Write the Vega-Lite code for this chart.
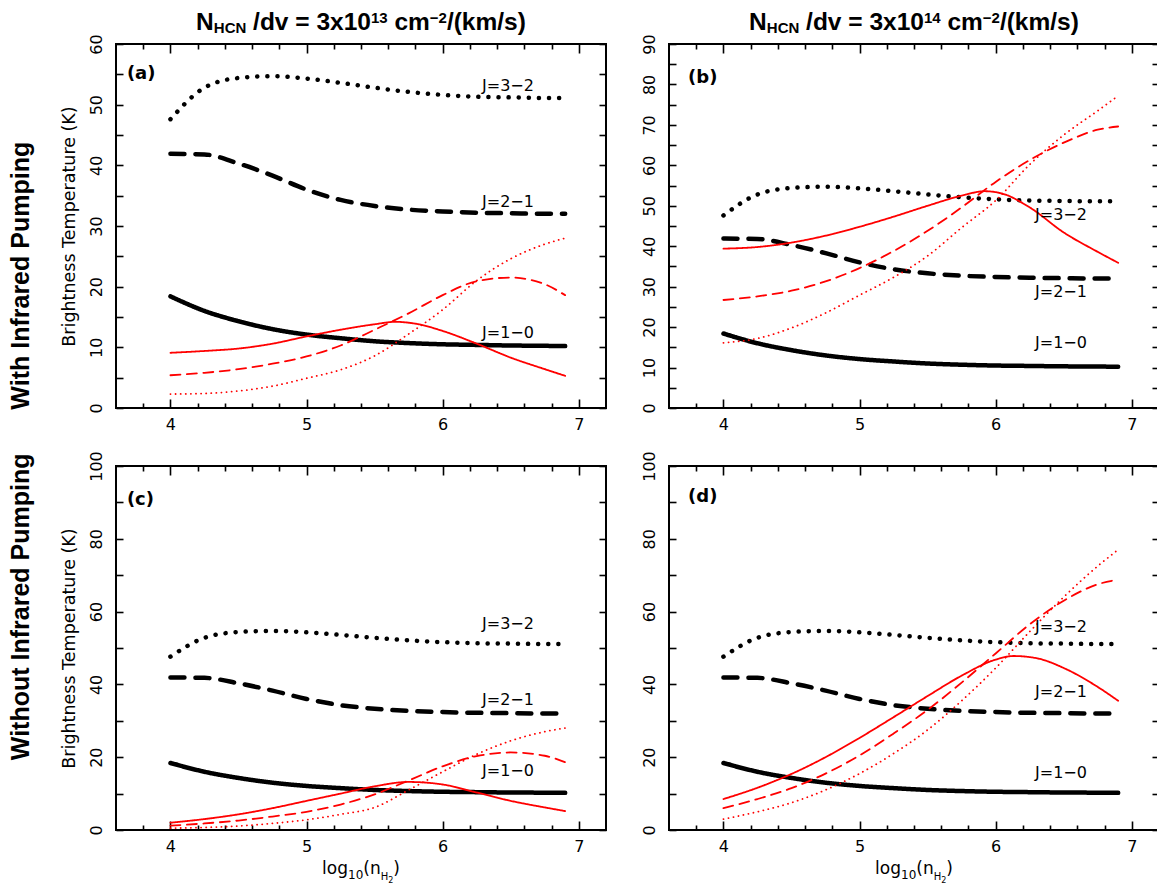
{
  "$schema": "https://vega.github.io/schema/vega-lite/v6.json",
  "background": "white",
  "padding": {"left": 8, "top": 8, "right": 0, "bottom": 0},
  "bounds": "flush",
  "columns": 2,
  "spacing": {"row": 58, "column": 63},
  "config": {
    "view": {"stroke": "#000000", "strokeWidth": 2},
    "axis": {
      "domain": false, "grid": false,
      "labelFont": "DejaVu Sans", "labelFontSize": 16, "labelColor": "#000000",
      "labelOverlap": false, "labelFlush": false, "labelBound": false,
      "tickColor": "#000000", "tickWidth": 1.6,
      "titleFont": "DejaVu Sans", "titleFontSize": 16, "titleFontWeight": "normal", "titleColor": "#000000"
    },
    "text": {"color": "#000000"}
  },
  "datasets": {
    "base": [
      {"J": "1-0", "x": 4, "T": 18.4}, {"J": "1-0", "x": 4.25, "T": 16.0}, {"J": "1-0", "x": 4.5, "T": 14.3}, {"J": "1-0", "x": 4.75, "T": 13.0}, {"J": "1-0", "x": 5, "T": 12.1}, {"J": "1-0", "x": 5.25, "T": 11.5}, {"J": "1-0", "x": 5.5, "T": 11.0}, {"J": "1-0", "x": 5.75, "T": 10.7}, {"J": "1-0", "x": 6, "T": 10.5}, {"J": "1-0", "x": 6.25, "T": 10.4}, {"J": "1-0", "x": 6.5, "T": 10.3}, {"J": "1-0", "x": 6.75, "T": 10.25}, {"J": "1-0", "x": 6.9, "T": 10.2},
      {"J": "2-1", "x": 4, "T": 41.9}, {"J": "2-1", "x": 4.25, "T": 41.8}, {"J": "2-1", "x": 4.5, "T": 40.3}, {"J": "2-1", "x": 4.75, "T": 38.3}, {"J": "2-1", "x": 5, "T": 36.0}, {"J": "2-1", "x": 5.25, "T": 34.3}, {"J": "2-1", "x": 5.5, "T": 33.3}, {"J": "2-1", "x": 5.75, "T": 32.7}, {"J": "2-1", "x": 6, "T": 32.4}, {"J": "2-1", "x": 6.25, "T": 32.2}, {"J": "2-1", "x": 6.5, "T": 32.1}, {"J": "2-1", "x": 6.75, "T": 32.0}, {"J": "2-1", "x": 6.9, "T": 32.0},
      {"J": "3-2", "x": 4, "T": 47.6}, {"J": "3-2", "x": 4.25, "T": 52.8}, {"J": "3-2", "x": 4.5, "T": 54.4}, {"J": "3-2", "x": 4.75, "T": 54.7}, {"J": "3-2", "x": 5, "T": 54.3}, {"J": "3-2", "x": 5.25, "T": 53.6}, {"J": "3-2", "x": 5.5, "T": 52.8}, {"J": "3-2", "x": 5.75, "T": 52.1}, {"J": "3-2", "x": 6, "T": 51.6}, {"J": "3-2", "x": 6.25, "T": 51.3}, {"J": "3-2", "x": 6.5, "T": 51.2}, {"J": "3-2", "x": 6.75, "T": 51.1}, {"J": "3-2", "x": 6.9, "T": 51.1}
    ],
    "curves": [
      {"p": "a", "J": "1-0", "x": 4, "T": 9.1}, {"p": "a", "J": "1-0", "x": 4.25, "T": 9.4}, {"p": "a", "J": "1-0", "x": 4.5, "T": 9.8}, {"p": "a", "J": "1-0", "x": 4.75, "T": 10.6}, {"p": "a", "J": "1-0", "x": 5, "T": 11.8}, {"p": "a", "J": "1-0", "x": 5.25, "T": 12.9}, {"p": "a", "J": "1-0", "x": 5.5, "T": 13.8}, {"p": "a", "J": "1-0", "x": 5.65, "T": 14.2}, {"p": "a", "J": "1-0", "x": 5.8, "T": 13.9}, {"p": "a", "J": "1-0", "x": 6, "T": 12.7}, {"p": "a", "J": "1-0", "x": 6.25, "T": 10.6}, {"p": "a", "J": "1-0", "x": 6.5, "T": 8.3}, {"p": "a", "J": "1-0", "x": 6.75, "T": 6.4}, {"p": "a", "J": "1-0", "x": 6.9, "T": 5.3},
      {"p": "a", "J": "2-1", "x": 4, "T": 5.4}, {"p": "a", "J": "2-1", "x": 4.25, "T": 5.8}, {"p": "a", "J": "2-1", "x": 4.5, "T": 6.4}, {"p": "a", "J": "2-1", "x": 4.75, "T": 7.3}, {"p": "a", "J": "2-1", "x": 5, "T": 8.5}, {"p": "a", "J": "2-1", "x": 5.25, "T": 10.3}, {"p": "a", "J": "2-1", "x": 5.5, "T": 12.9}, {"p": "a", "J": "2-1", "x": 5.75, "T": 15.6}, {"p": "a", "J": "2-1", "x": 6, "T": 18.6}, {"p": "a", "J": "2-1", "x": 6.25, "T": 20.9}, {"p": "a", "J": "2-1", "x": 6.5, "T": 21.5}, {"p": "a", "J": "2-1", "x": 6.75, "T": 20.4}, {"p": "a", "J": "2-1", "x": 6.9, "T": 18.6},
      {"p": "a", "J": "3-2", "x": 4, "T": 2.3}, {"p": "a", "J": "3-2", "x": 4.25, "T": 2.4}, {"p": "a", "J": "3-2", "x": 4.5, "T": 2.8}, {"p": "a", "J": "3-2", "x": 4.75, "T": 3.6}, {"p": "a", "J": "3-2", "x": 5, "T": 4.9}, {"p": "a", "J": "3-2", "x": 5.25, "T": 6.3}, {"p": "a", "J": "3-2", "x": 5.5, "T": 8.6}, {"p": "a", "J": "3-2", "x": 5.75, "T": 12.2}, {"p": "a", "J": "3-2", "x": 6, "T": 16.2}, {"p": "a", "J": "3-2", "x": 6.25, "T": 21.0}, {"p": "a", "J": "3-2", "x": 6.5, "T": 24.6}, {"p": "a", "J": "3-2", "x": 6.75, "T": 27.0}, {"p": "a", "J": "3-2", "x": 6.9, "T": 28.0},
      {"p": "b", "J": "1-0", "x": 4, "T": 39.4}, {"p": "b", "J": "1-0", "x": 4.25, "T": 39.8}, {"p": "b", "J": "1-0", "x": 4.5, "T": 40.9}, {"p": "b", "J": "1-0", "x": 4.75, "T": 42.6}, {"p": "b", "J": "1-0", "x": 5, "T": 44.8}, {"p": "b", "J": "1-0", "x": 5.25, "T": 47.3}, {"p": "b", "J": "1-0", "x": 5.5, "T": 50.0}, {"p": "b", "J": "1-0", "x": 5.75, "T": 52.5}, {"p": "b", "J": "1-0", "x": 5.92, "T": 53.6}, {"p": "b", "J": "1-0", "x": 6.05, "T": 53.0}, {"p": "b", "J": "1-0", "x": 6.25, "T": 49.6}, {"p": "b", "J": "1-0", "x": 6.5, "T": 43.4}, {"p": "b", "J": "1-0", "x": 6.75, "T": 38.6}, {"p": "b", "J": "1-0", "x": 6.9, "T": 35.9},
      {"p": "b", "J": "2-1", "x": 4, "T": 26.7}, {"p": "b", "J": "2-1", "x": 4.25, "T": 27.6}, {"p": "b", "J": "2-1", "x": 4.5, "T": 29.0}, {"p": "b", "J": "2-1", "x": 4.75, "T": 31.3}, {"p": "b", "J": "2-1", "x": 5, "T": 34.6}, {"p": "b", "J": "2-1", "x": 5.25, "T": 38.8}, {"p": "b", "J": "2-1", "x": 5.5, "T": 43.8}, {"p": "b", "J": "2-1", "x": 5.75, "T": 49.6}, {"p": "b", "J": "2-1", "x": 6, "T": 55.9}, {"p": "b", "J": "2-1", "x": 6.25, "T": 61.3}, {"p": "b", "J": "2-1", "x": 6.5, "T": 65.6}, {"p": "b", "J": "2-1", "x": 6.75, "T": 68.8}, {"p": "b", "J": "2-1", "x": 6.9, "T": 69.6},
      {"p": "b", "J": "3-2", "x": 4, "T": 16.1}, {"p": "b", "J": "3-2", "x": 4.25, "T": 17.2}, {"p": "b", "J": "3-2", "x": 4.5, "T": 19.8}, {"p": "b", "J": "3-2", "x": 4.75, "T": 23.5}, {"p": "b", "J": "3-2", "x": 5, "T": 27.9}, {"p": "b", "J": "3-2", "x": 5.25, "T": 32.3}, {"p": "b", "J": "3-2", "x": 5.5, "T": 37.6}, {"p": "b", "J": "3-2", "x": 5.75, "T": 44.6}, {"p": "b", "J": "3-2", "x": 6, "T": 51.3}, {"p": "b", "J": "3-2", "x": 6.25, "T": 60.2}, {"p": "b", "J": "3-2", "x": 6.5, "T": 67.5}, {"p": "b", "J": "3-2", "x": 6.75, "T": 73.5}, {"p": "b", "J": "3-2", "x": 6.9, "T": 77.2},
      {"p": "c", "J": "1-0", "x": 4, "T": 2.0}, {"p": "c", "J": "1-0", "x": 4.25, "T": 3.0}, {"p": "c", "J": "1-0", "x": 4.5, "T": 4.3}, {"p": "c", "J": "1-0", "x": 4.75, "T": 6.0}, {"p": "c", "J": "1-0", "x": 5, "T": 8.0}, {"p": "c", "J": "1-0", "x": 5.25, "T": 10.0}, {"p": "c", "J": "1-0", "x": 5.5, "T": 12.0}, {"p": "c", "J": "1-0", "x": 5.75, "T": 13.2}, {"p": "c", "J": "1-0", "x": 6, "T": 12.5}, {"p": "c", "J": "1-0", "x": 6.25, "T": 10.3}, {"p": "c", "J": "1-0", "x": 6.5, "T": 8.0}, {"p": "c", "J": "1-0", "x": 6.75, "T": 6.2}, {"p": "c", "J": "1-0", "x": 6.9, "T": 5.2},
      {"p": "c", "J": "2-1", "x": 4, "T": 1.2}, {"p": "c", "J": "2-1", "x": 4.25, "T": 1.8}, {"p": "c", "J": "2-1", "x": 4.5, "T": 2.6}, {"p": "c", "J": "2-1", "x": 4.75, "T": 3.7}, {"p": "c", "J": "2-1", "x": 5, "T": 5.0}, {"p": "c", "J": "2-1", "x": 5.25, "T": 7.0}, {"p": "c", "J": "2-1", "x": 5.5, "T": 9.8}, {"p": "c", "J": "2-1", "x": 5.75, "T": 13.6}, {"p": "c", "J": "2-1", "x": 6, "T": 17.5}, {"p": "c", "J": "2-1", "x": 6.25, "T": 20.3}, {"p": "c", "J": "2-1", "x": 6.5, "T": 21.3}, {"p": "c", "J": "2-1", "x": 6.75, "T": 20.4}, {"p": "c", "J": "2-1", "x": 6.9, "T": 18.6},
      {"p": "c", "J": "3-2", "x": 4, "T": 0.5}, {"p": "c", "J": "3-2", "x": 4.25, "T": 0.7}, {"p": "c", "J": "3-2", "x": 4.5, "T": 1.1}, {"p": "c", "J": "3-2", "x": 4.75, "T": 1.8}, {"p": "c", "J": "3-2", "x": 5, "T": 2.8}, {"p": "c", "J": "3-2", "x": 5.25, "T": 4.3}, {"p": "c", "J": "3-2", "x": 5.5, "T": 6.2}, {"p": "c", "J": "3-2", "x": 5.75, "T": 11.0}, {"p": "c", "J": "3-2", "x": 6, "T": 16.0}, {"p": "c", "J": "3-2", "x": 6.25, "T": 20.8}, {"p": "c", "J": "3-2", "x": 6.5, "T": 24.5}, {"p": "c", "J": "3-2", "x": 6.75, "T": 27.0}, {"p": "c", "J": "3-2", "x": 6.9, "T": 28.0},
      {"p": "d", "J": "1-0", "x": 4, "T": 8.5}, {"p": "d", "J": "1-0", "x": 4.25, "T": 11.6}, {"p": "d", "J": "1-0", "x": 4.5, "T": 15.4}, {"p": "d", "J": "1-0", "x": 4.75, "T": 20.0}, {"p": "d", "J": "1-0", "x": 5, "T": 25.3}, {"p": "d", "J": "1-0", "x": 5.25, "T": 31.0}, {"p": "d", "J": "1-0", "x": 5.5, "T": 36.8}, {"p": "d", "J": "1-0", "x": 5.75, "T": 42.4}, {"p": "d", "J": "1-0", "x": 6, "T": 46.8}, {"p": "d", "J": "1-0", "x": 6.13, "T": 47.8}, {"p": "d", "J": "1-0", "x": 6.3, "T": 47.2}, {"p": "d", "J": "1-0", "x": 6.5, "T": 44.5}, {"p": "d", "J": "1-0", "x": 6.75, "T": 39.3}, {"p": "d", "J": "1-0", "x": 6.9, "T": 35.5},
      {"p": "d", "J": "2-1", "x": 4, "T": 6.0}, {"p": "d", "J": "2-1", "x": 4.25, "T": 8.5}, {"p": "d", "J": "2-1", "x": 4.5, "T": 11.5}, {"p": "d", "J": "2-1", "x": 4.75, "T": 15.5}, {"p": "d", "J": "2-1", "x": 5, "T": 20.5}, {"p": "d", "J": "2-1", "x": 5.25, "T": 26.5}, {"p": "d", "J": "2-1", "x": 5.5, "T": 33.0}, {"p": "d", "J": "2-1", "x": 5.75, "T": 40.5}, {"p": "d", "J": "2-1", "x": 6, "T": 48.5}, {"p": "d", "J": "2-1", "x": 6.25, "T": 56.5}, {"p": "d", "J": "2-1", "x": 6.5, "T": 63.0}, {"p": "d", "J": "2-1", "x": 6.75, "T": 67.5}, {"p": "d", "J": "2-1", "x": 6.9, "T": 68.8},
      {"p": "d", "J": "3-2", "x": 4, "T": 3.0}, {"p": "d", "J": "3-2", "x": 4.25, "T": 5.0}, {"p": "d", "J": "3-2", "x": 4.5, "T": 7.5}, {"p": "d", "J": "3-2", "x": 4.75, "T": 11.0}, {"p": "d", "J": "3-2", "x": 5, "T": 15.5}, {"p": "d", "J": "3-2", "x": 5.25, "T": 21.0}, {"p": "d", "J": "3-2", "x": 5.5, "T": 27.5}, {"p": "d", "J": "3-2", "x": 5.75, "T": 35.5}, {"p": "d", "J": "3-2", "x": 6, "T": 44.5}, {"p": "d", "J": "3-2", "x": 6.25, "T": 54.5}, {"p": "d", "J": "3-2", "x": 6.5, "T": 64.0}, {"p": "d", "J": "3-2", "x": 6.75, "T": 72.5}, {"p": "d", "J": "3-2", "x": 6.9, "T": 77.0}
    ],
    "labels": [
      {"p": "a", "x": 6.48, "T": 53.0, "text": "J=3−2"}, {"p": "a", "x": 6.48, "T": 34.0, "text": "J=2−1"}, {"p": "a", "x": 6.48, "T": 12.3, "text": "J=1−0"},
      {"p": "b", "x": 6.48, "T": 47.7, "text": "J=3−2"}, {"p": "b", "x": 6.48, "T": 28.8, "text": "J=2−1"}, {"p": "b", "x": 6.48, "T": 16.1, "text": "J=1−0"},
      {"p": "c", "x": 6.48, "T": 56.6, "text": "J=3−2"}, {"p": "c", "x": 6.48, "T": 35.7, "text": "J=2−1"}, {"p": "c", "x": 6.48, "T": 16.2, "text": "J=1−0"},
      {"p": "d", "x": 6.48, "T": 55.8, "text": "J=3−2"}, {"p": "d", "x": 6.48, "T": 37.9, "text": "J=2−1"}, {"p": "d", "x": 6.48, "T": 15.7, "text": "J=1−0"}
    ],
    "tags": [
      {"p": "a", "x": 3.68, "T": 55.0, "text": "(a)"},
      {"p": "b", "x": 3.74, "T": 81.6, "text": "(b)"},
      {"p": "c", "x": 3.68, "T": 90.7, "text": "(c)"},
      {"p": "d", "x": 3.74, "T": 91.5, "text": "(d)"}
    ]
  },
  "concat": [
    {
      "width": 490, "height": 364,
      "layer": [
        {
          "data": {"name": "base"},
          "mark": {"type": "line", "color": "#000000", "strokeWidth": 4.5, "strokeCap": "round", "interpolate": "monotone"},
          "encoding": {
            "x": {"field": "x", "type": "quantitative", "scale": {"domain": [3.6, 7.2], "nice": false, "zero": false},
              "axis": {"orient": "bottom", "title": null, "values": [3.8,4,4.2,4.4,4.6,4.8,5,5.2,5.4,5.6,5.8,6,6.2,6.4,6.6,6.8,7], "labelExpr": "datum.value % 1 === 0 ? format(datum.value, 'd') : ''", "tickSize": {"condition": {"test": "datum.value % 1 === 0", "value": -9}, "value": -5}, "labelPadding": 17}},
            "y": {"field": "T", "type": "quantitative", "scale": {"domain": [0, 60], "nice": false, "zero": false},
              "axis": {"orient": "left", "title": "Brightness Temperature (K)", "titleFont": "DejaVu Sans", "titleFontSize": 17.5, "titleFontWeight": "normal", "titlePadding": 10, "values": [0,5,10,15,20,25,30,35,40,45,50,55,60], "labelExpr": "datum.value % 10 === 0 ? datum.label : ''", "tickSize": -7, "labelAngle": -90, "labelAlign": "center", "labelBaseline": "bottom", "labelPadding": 19}},
            "strokeDash": {"field": "J", "type": "nominal", "scale": {"domain": ["1-0", "2-1", "3-2"], "range": [[1, 0], [14, 11], [0.1, 10]]}, "legend": null}
          }
        },
        {
          "data": {"name": "curves"},
          "transform": [{"filter": "datum.p === 'a'"}],
          "mark": {"type": "line", "color": "#ff0000", "strokeWidth": 1.8, "strokeCap": "round", "interpolate": "monotone"},
          "encoding": {
            "x": {"field": "x", "type": "quantitative", "axis": {"orient": "top", "title": null, "labels": false, "values": [3.8,4,4.2,4.4,4.6,4.8,5,5.2,5.4,5.6,5.8,6,6.2,6.4,6.6,6.8,7], "tickSize": {"condition": {"test": "datum.value % 1 === 0", "value": -9}, "value": -5}}},
            "y": {"field": "T", "type": "quantitative", "axis": {"orient": "right", "title": null, "labels": false, "values": [0,5,10,15,20,25,30,35,40,45,50,55,60], "tickSize": -7}},
            "strokeDash": {"field": "J", "type": "nominal", "scale": {"domain": ["1-0", "2-1", "3-2"], "range": [[1, 0], [10, 6.5], [0.1, 5]]}, "legend": null}
          }
        },
        {
          "data": {"name": "labels"},
          "transform": [{"filter": "datum.p === 'a'"}],
          "mark": {"type": "text", "font": "DejaVu Sans", "fontSize": 16, "align": "center", "baseline": "middle"},
          "encoding": {"x": {"field": "x", "type": "quantitative", "axis": null}, "y": {"field": "T", "type": "quantitative", "axis": null}, "text": {"field": "text"}}
        },
        {
          "data": {"name": "tags"},
          "transform": [{"filter": "datum.p === 'a'"}],
          "mark": {"type": "text", "font": "DejaVu Sans", "fontWeight": "bold", "fontSize": 18, "align": "left", "baseline": "middle"},
          "encoding": {"x": {"field": "x", "type": "quantitative", "axis": null}, "y": {"field": "T", "type": "quantitative", "axis": null}, "text": {"field": "text"}}
        },
        {"data": {"values": [{}]}, "mark": {"type": "text", "text": "With Infrared Pumping", "font": "Liberation Sans", "fontWeight": "bold", "fontSize": 25, "angle": 270, "align": "center", "baseline": "middle"}, "encoding": {"x": {"datum": 2.9025, "axis": null}, "y": {"datum": 21.8, "axis": null}}},
        {"data": {"values": [{}]}, "mark": {"type": "text", "text": "N", "font": "Liberation Sans", "fontWeight": "bold", "fontSize": 24.5, "align": "left", "baseline": "alphabetic", "dx": -164.9}, "encoding": {"x": {"datum": 5.4, "axis": null}, "y": {"datum": 62.31, "axis": null}}},
        {"data": {"values": [{}]}, "mark": {"type": "text", "text": "HCN", "font": "Liberation Sans", "fontWeight": "bold", "fontSize": 15, "align": "left", "baseline": "alphabetic", "dx": -147.2, "dy": 3}, "encoding": {"x": {"datum": 5.4, "axis": null}, "y": {"datum": 62.31, "axis": null}}},
        {"data": {"values": [{}]}, "mark": {"type": "text", "text": "/dv = 3x10", "font": "Liberation Sans", "fontWeight": "bold", "fontSize": 24.5, "align": "left", "baseline": "alphabetic", "dx": -107.9}, "encoding": {"x": {"datum": 5.4, "axis": null}, "y": {"datum": 62.31, "axis": null}}},
        {"data": {"values": [{}]}, "mark": {"type": "text", "text": "13", "font": "Liberation Sans", "fontWeight": "bold", "fontSize": 15, "align": "left", "baseline": "alphabetic", "dx": 9.9, "dy": -7}, "encoding": {"x": {"datum": 5.4, "axis": null}, "y": {"datum": 62.31, "axis": null}}},
        {"data": {"values": [{}]}, "mark": {"type": "text", "text": "cm", "font": "Liberation Sans", "fontWeight": "bold", "fontSize": 24.5, "align": "left", "baseline": "alphabetic", "dx": 33.4}, "encoding": {"x": {"datum": 5.4, "axis": null}, "y": {"datum": 62.31, "axis": null}}},
        {"data": {"values": [{}]}, "mark": {"type": "text", "text": "−2", "font": "Liberation Sans", "fontWeight": "bold", "fontSize": 15, "align": "left", "baseline": "alphabetic", "dx": 68.8, "dy": -7}, "encoding": {"x": {"datum": 5.4, "axis": null}, "y": {"datum": 62.31, "axis": null}}},
        {"data": {"values": [{}]}, "mark": {"type": "text", "text": "/(km/s)", "font": "Liberation Sans", "fontWeight": "bold", "fontSize": 24.5, "align": "left", "baseline": "alphabetic", "dx": 85.9}, "encoding": {"x": {"datum": 5.4, "axis": null}, "y": {"datum": 62.31, "axis": null}}}
      ],
      "resolve": {"axis": {"x": "independent", "y": "independent"}, "scale": {"strokeDash": "independent"}}
    },
    {
      "width": 490, "height": 364,
      "layer": [
        {
          "data": {"name": "base"},
          "mark": {"type": "line", "color": "#000000", "strokeWidth": 4.5, "strokeCap": "round", "interpolate": "monotone"},
          "encoding": {
            "x": {"field": "x", "type": "quantitative", "scale": {"domain": [3.6, 7.2], "nice": false, "zero": false},
              "axis": {"orient": "bottom", "title": null, "values": [3.8,4,4.2,4.4,4.6,4.8,5,5.2,5.4,5.6,5.8,6,6.2,6.4,6.6,6.8,7], "labelExpr": "datum.value % 1 === 0 ? format(datum.value, 'd') : ''", "tickSize": {"condition": {"test": "datum.value % 1 === 0", "value": -9}, "value": -5}, "labelPadding": 17}},
            "y": {"field": "T", "type": "quantitative", "scale": {"domain": [0, 90], "nice": false, "zero": false},
              "axis": {"orient": "left", "title": null, "values": [0,5,10,15,20,25,30,35,40,45,50,55,60,65,70,75,80,85,90], "labelExpr": "datum.value % 10 === 0 ? datum.label : ''", "tickSize": -7, "labelAngle": -90, "labelAlign": "center", "labelBaseline": "bottom", "labelPadding": 19}},
            "strokeDash": {"field": "J", "type": "nominal", "scale": {"domain": ["1-0", "2-1", "3-2"], "range": [[1, 0], [14, 11], [0.1, 10]]}, "legend": null}
          }
        },
        {
          "data": {"name": "curves"},
          "transform": [{"filter": "datum.p === 'b'"}],
          "mark": {"type": "line", "color": "#ff0000", "strokeWidth": 1.8, "strokeCap": "round", "interpolate": "monotone"},
          "encoding": {
            "x": {"field": "x", "type": "quantitative", "axis": {"orient": "top", "title": null, "labels": false, "values": [3.8,4,4.2,4.4,4.6,4.8,5,5.2,5.4,5.6,5.8,6,6.2,6.4,6.6,6.8,7], "tickSize": {"condition": {"test": "datum.value % 1 === 0", "value": -9}, "value": -5}}},
            "y": {"field": "T", "type": "quantitative", "axis": {"orient": "right", "title": null, "labels": false, "values": [0,5,10,15,20,25,30,35,40,45,50,55,60,65,70,75,80,85,90], "tickSize": -7}},
            "strokeDash": {"field": "J", "type": "nominal", "scale": {"domain": ["1-0", "2-1", "3-2"], "range": [[1, 0], [10, 6.5], [0.1, 5]]}, "legend": null}
          }
        },
        {
          "data": {"name": "labels"},
          "transform": [{"filter": "datum.p === 'b'"}],
          "mark": {"type": "text", "font": "DejaVu Sans", "fontSize": 16, "align": "center", "baseline": "middle"},
          "encoding": {"x": {"field": "x", "type": "quantitative", "axis": null}, "y": {"field": "T", "type": "quantitative", "axis": null}, "text": {"field": "text"}}
        },
        {
          "data": {"name": "tags"},
          "transform": [{"filter": "datum.p === 'b'"}],
          "mark": {"type": "text", "font": "DejaVu Sans", "fontWeight": "bold", "fontSize": 18, "align": "left", "baseline": "middle"},
          "encoding": {"x": {"field": "x", "type": "quantitative", "axis": null}, "y": {"field": "T", "type": "quantitative", "axis": null}, "text": {"field": "text"}}
        },
        {"data": {"values": [{}]}, "mark": {"type": "text", "text": "N", "font": "Liberation Sans", "fontWeight": "bold", "fontSize": 24.5, "align": "left", "baseline": "alphabetic", "dx": -164.9}, "encoding": {"x": {"datum": 5.4, "axis": null}, "y": {"datum": 93.46, "axis": null}}},
        {"data": {"values": [{}]}, "mark": {"type": "text", "text": "HCN", "font": "Liberation Sans", "fontWeight": "bold", "fontSize": 15, "align": "left", "baseline": "alphabetic", "dx": -147.2, "dy": 3}, "encoding": {"x": {"datum": 5.4, "axis": null}, "y": {"datum": 93.46, "axis": null}}},
        {"data": {"values": [{}]}, "mark": {"type": "text", "text": "/dv = 3x10", "font": "Liberation Sans", "fontWeight": "bold", "fontSize": 24.5, "align": "left", "baseline": "alphabetic", "dx": -107.9}, "encoding": {"x": {"datum": 5.4, "axis": null}, "y": {"datum": 93.46, "axis": null}}},
        {"data": {"values": [{}]}, "mark": {"type": "text", "text": "14", "font": "Liberation Sans", "fontWeight": "bold", "fontSize": 15, "align": "left", "baseline": "alphabetic", "dx": 9.9, "dy": -7}, "encoding": {"x": {"datum": 5.4, "axis": null}, "y": {"datum": 93.46, "axis": null}}},
        {"data": {"values": [{}]}, "mark": {"type": "text", "text": "cm", "font": "Liberation Sans", "fontWeight": "bold", "fontSize": 24.5, "align": "left", "baseline": "alphabetic", "dx": 33.4}, "encoding": {"x": {"datum": 5.4, "axis": null}, "y": {"datum": 93.46, "axis": null}}},
        {"data": {"values": [{}]}, "mark": {"type": "text", "text": "−2", "font": "Liberation Sans", "fontWeight": "bold", "fontSize": 15, "align": "left", "baseline": "alphabetic", "dx": 68.8, "dy": -7}, "encoding": {"x": {"datum": 5.4, "axis": null}, "y": {"datum": 93.46, "axis": null}}},
        {"data": {"values": [{}]}, "mark": {"type": "text", "text": "/(km/s)", "font": "Liberation Sans", "fontWeight": "bold", "fontSize": 24.5, "align": "left", "baseline": "alphabetic", "dx": 85.9}, "encoding": {"x": {"datum": 5.4, "axis": null}, "y": {"datum": 93.46, "axis": null}}}
      ],
      "resolve": {"axis": {"x": "independent", "y": "independent"}, "scale": {"strokeDash": "independent"}}
    },
    {
      "width": 490, "height": 364,
      "layer": [
        {
          "data": {"name": "base"},
          "mark": {"type": "line", "color": "#000000", "strokeWidth": 4.5, "strokeCap": "round", "interpolate": "monotone"},
          "encoding": {
            "x": {"field": "x", "type": "quantitative", "scale": {"domain": [3.6, 7.2], "nice": false, "zero": false},
              "axis": {"orient": "bottom", "title": null, "values": [3.8,4,4.2,4.4,4.6,4.8,5,5.2,5.4,5.6,5.8,6,6.2,6.4,6.6,6.8,7], "labelExpr": "datum.value % 1 === 0 ? format(datum.value, 'd') : ''", "tickSize": {"condition": {"test": "datum.value % 1 === 0", "value": -9}, "value": -5}, "labelPadding": 17}},
            "y": {"field": "T", "type": "quantitative", "scale": {"domain": [0, 100], "nice": false, "zero": false},
              "axis": {"orient": "left", "title": "Brightness Temperature (K)", "titleFont": "DejaVu Sans", "titleFontSize": 17.5, "titleFontWeight": "normal", "titlePadding": 10, "values": [0,10,20,30,40,50,60,70,80,90,100], "labelExpr": "datum.value % 20 === 0 ? datum.label : ''", "tickSize": -7, "labelAngle": -90, "labelAlign": "center", "labelBaseline": "bottom", "labelPadding": 19}},
            "strokeDash": {"field": "J", "type": "nominal", "scale": {"domain": ["1-0", "2-1", "3-2"], "range": [[1, 0], [14, 11], [0.1, 10]]}, "legend": null}
          }
        },
        {
          "data": {"name": "curves"},
          "transform": [{"filter": "datum.p === 'c'"}],
          "mark": {"type": "line", "color": "#ff0000", "strokeWidth": 1.8, "strokeCap": "round", "interpolate": "monotone"},
          "encoding": {
            "x": {"field": "x", "type": "quantitative", "axis": {"orient": "top", "title": null, "labels": false, "values": [3.8,4,4.2,4.4,4.6,4.8,5,5.2,5.4,5.6,5.8,6,6.2,6.4,6.6,6.8,7], "tickSize": {"condition": {"test": "datum.value % 1 === 0", "value": -9}, "value": -5}}},
            "y": {"field": "T", "type": "quantitative", "axis": {"orient": "right", "title": null, "labels": false, "values": [0,10,20,30,40,50,60,70,80,90,100], "tickSize": -7}},
            "strokeDash": {"field": "J", "type": "nominal", "scale": {"domain": ["1-0", "2-1", "3-2"], "range": [[1, 0], [10, 6.5], [0.1, 5]]}, "legend": null}
          }
        },
        {
          "data": {"name": "labels"},
          "transform": [{"filter": "datum.p === 'c'"}],
          "mark": {"type": "text", "font": "DejaVu Sans", "fontSize": 16, "align": "center", "baseline": "middle"},
          "encoding": {"x": {"field": "x", "type": "quantitative", "axis": null}, "y": {"field": "T", "type": "quantitative", "axis": null}, "text": {"field": "text"}}
        },
        {
          "data": {"name": "tags"},
          "transform": [{"filter": "datum.p === 'c'"}],
          "mark": {"type": "text", "font": "DejaVu Sans", "fontWeight": "bold", "fontSize": 18, "align": "left", "baseline": "middle"},
          "encoding": {"x": {"field": "x", "type": "quantitative", "axis": null}, "y": {"field": "T", "type": "quantitative", "axis": null}, "text": {"field": "text"}}
        },
        {"data": {"values": [{}]}, "mark": {"type": "text", "text": "Without Infrared Pumping", "font": "Liberation Sans", "fontWeight": "bold", "fontSize": 25, "angle": 270, "align": "center", "baseline": "middle"}, "encoding": {"x": {"datum": 2.9025, "axis": null}, "y": {"datum": 61.3, "axis": null}}},
        {"data": {"values": [{}]}, "mark": {"type": "text", "text": "log", "font": "DejaVu Sans", "fontSize": 17, "align": "left", "baseline": "alphabetic", "dx": -38.9}, "encoding": {"x": {"datum": 5.4, "axis": null}, "y": {"datum": -12.1, "axis": null}}},
        {"data": {"values": [{}]}, "mark": {"type": "text", "text": "10", "font": "DejaVu Sans", "fontSize": 12, "align": "left", "baseline": "alphabetic", "dx": -13.0, "dy": 5}, "encoding": {"x": {"datum": 5.4, "axis": null}, "y": {"datum": -12.1, "axis": null}}},
        {"data": {"values": [{}]}, "mark": {"type": "text", "text": "(n", "font": "DejaVu Sans", "fontSize": 17, "align": "left", "baseline": "alphabetic", "dx": 2.3}, "encoding": {"x": {"datum": 5.4, "axis": null}, "y": {"datum": -12.1, "axis": null}}},
        {"data": {"values": [{}]}, "mark": {"type": "text", "text": "H", "font": "DejaVu Sans", "fontSize": 10, "align": "left", "baseline": "alphabetic", "dx": 19.7, "dy": 6}, "encoding": {"x": {"datum": 5.4, "axis": null}, "y": {"datum": -12.1, "axis": null}}},
        {"data": {"values": [{}]}, "mark": {"type": "text", "text": "2", "font": "DejaVu Sans", "fontSize": 8, "align": "left", "baseline": "alphabetic", "dx": 27.2, "dy": 9}, "encoding": {"x": {"datum": 5.4, "axis": null}, "y": {"datum": -12.1, "axis": null}}},
        {"data": {"values": [{}]}, "mark": {"type": "text", "text": ")", "font": "DejaVu Sans", "fontSize": 17, "align": "left", "baseline": "alphabetic", "dx": 32.3}, "encoding": {"x": {"datum": 5.4, "axis": null}, "y": {"datum": -12.1, "axis": null}}}
      ],
      "resolve": {"axis": {"x": "independent", "y": "independent"}, "scale": {"strokeDash": "independent"}}
    },
    {
      "width": 490, "height": 364,
      "layer": [
        {
          "data": {"name": "base"},
          "mark": {"type": "line", "color": "#000000", "strokeWidth": 4.5, "strokeCap": "round", "interpolate": "monotone"},
          "encoding": {
            "x": {"field": "x", "type": "quantitative", "scale": {"domain": [3.6, 7.2], "nice": false, "zero": false},
              "axis": {"orient": "bottom", "title": null, "values": [3.8,4,4.2,4.4,4.6,4.8,5,5.2,5.4,5.6,5.8,6,6.2,6.4,6.6,6.8,7], "labelExpr": "datum.value % 1 === 0 ? format(datum.value, 'd') : ''", "tickSize": {"condition": {"test": "datum.value % 1 === 0", "value": -9}, "value": -5}, "labelPadding": 17}},
            "y": {"field": "T", "type": "quantitative", "scale": {"domain": [0, 100], "nice": false, "zero": false},
              "axis": {"orient": "left", "title": null, "values": [0,10,20,30,40,50,60,70,80,90,100], "labelExpr": "datum.value % 20 === 0 ? datum.label : ''", "tickSize": -7, "labelAngle": -90, "labelAlign": "center", "labelBaseline": "bottom", "labelPadding": 19}},
            "strokeDash": {"field": "J", "type": "nominal", "scale": {"domain": ["1-0", "2-1", "3-2"], "range": [[1, 0], [14, 11], [0.1, 10]]}, "legend": null}
          }
        },
        {
          "data": {"name": "curves"},
          "transform": [{"filter": "datum.p === 'd'"}],
          "mark": {"type": "line", "color": "#ff0000", "strokeWidth": 1.8, "strokeCap": "round", "interpolate": "monotone"},
          "encoding": {
            "x": {"field": "x", "type": "quantitative", "axis": {"orient": "top", "title": null, "labels": false, "values": [3.8,4,4.2,4.4,4.6,4.8,5,5.2,5.4,5.6,5.8,6,6.2,6.4,6.6,6.8,7], "tickSize": {"condition": {"test": "datum.value % 1 === 0", "value": -9}, "value": -5}}},
            "y": {"field": "T", "type": "quantitative", "axis": {"orient": "right", "title": null, "labels": false, "values": [0,10,20,30,40,50,60,70,80,90,100], "tickSize": -7}},
            "strokeDash": {"field": "J", "type": "nominal", "scale": {"domain": ["1-0", "2-1", "3-2"], "range": [[1, 0], [10, 6.5], [0.1, 5]]}, "legend": null}
          }
        },
        {
          "data": {"name": "labels"},
          "transform": [{"filter": "datum.p === 'd'"}],
          "mark": {"type": "text", "font": "DejaVu Sans", "fontSize": 16, "align": "center", "baseline": "middle"},
          "encoding": {"x": {"field": "x", "type": "quantitative", "axis": null}, "y": {"field": "T", "type": "quantitative", "axis": null}, "text": {"field": "text"}}
        },
        {
          "data": {"name": "tags"},
          "transform": [{"filter": "datum.p === 'd'"}],
          "mark": {"type": "text", "font": "DejaVu Sans", "fontWeight": "bold", "fontSize": 18, "align": "left", "baseline": "middle"},
          "encoding": {"x": {"field": "x", "type": "quantitative", "axis": null}, "y": {"field": "T", "type": "quantitative", "axis": null}, "text": {"field": "text"}}
        },
        {"data": {"values": [{}]}, "mark": {"type": "text", "text": "log", "font": "DejaVu Sans", "fontSize": 17, "align": "left", "baseline": "alphabetic", "dx": -38.9}, "encoding": {"x": {"datum": 5.4, "axis": null}, "y": {"datum": -12.1, "axis": null}}},
        {"data": {"values": [{}]}, "mark": {"type": "text", "text": "10", "font": "DejaVu Sans", "fontSize": 12, "align": "left", "baseline": "alphabetic", "dx": -13.0, "dy": 5}, "encoding": {"x": {"datum": 5.4, "axis": null}, "y": {"datum": -12.1, "axis": null}}},
        {"data": {"values": [{}]}, "mark": {"type": "text", "text": "(n", "font": "DejaVu Sans", "fontSize": 17, "align": "left", "baseline": "alphabetic", "dx": 2.3}, "encoding": {"x": {"datum": 5.4, "axis": null}, "y": {"datum": -12.1, "axis": null}}},
        {"data": {"values": [{}]}, "mark": {"type": "text", "text": "H", "font": "DejaVu Sans", "fontSize": 10, "align": "left", "baseline": "alphabetic", "dx": 19.7, "dy": 6}, "encoding": {"x": {"datum": 5.4, "axis": null}, "y": {"datum": -12.1, "axis": null}}},
        {"data": {"values": [{}]}, "mark": {"type": "text", "text": "2", "font": "DejaVu Sans", "fontSize": 8, "align": "left", "baseline": "alphabetic", "dx": 27.2, "dy": 9}, "encoding": {"x": {"datum": 5.4, "axis": null}, "y": {"datum": -12.1, "axis": null}}},
        {"data": {"values": [{}]}, "mark": {"type": "text", "text": ")", "font": "DejaVu Sans", "fontSize": 17, "align": "left", "baseline": "alphabetic", "dx": 32.3}, "encoding": {"x": {"datum": 5.4, "axis": null}, "y": {"datum": -12.1, "axis": null}}}
      ],
      "resolve": {"axis": {"x": "independent", "y": "independent"}, "scale": {"strokeDash": "independent"}}
    }
  ]
}
